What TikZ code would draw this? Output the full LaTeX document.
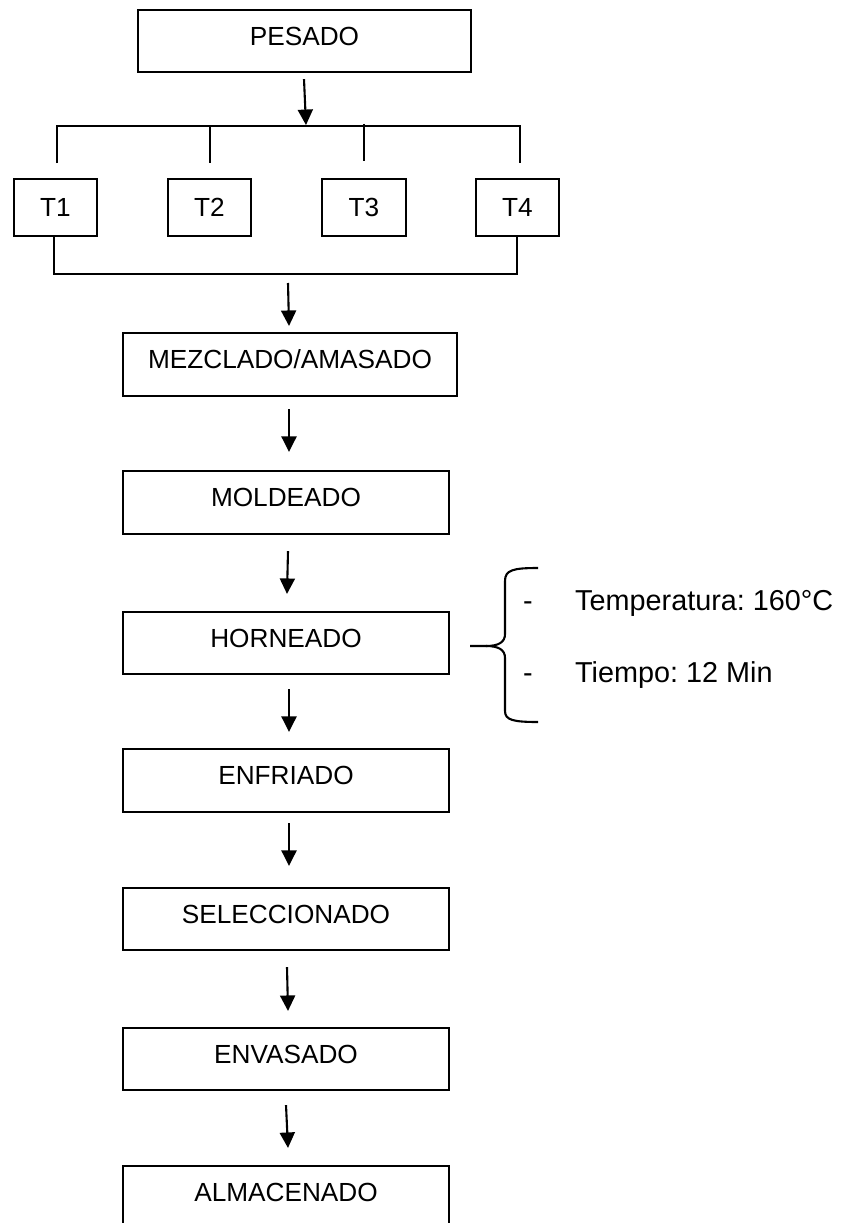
\documentclass[tikz,border=0pt]{standalone}
\usepackage{fontspec}
\setmainfont{Liberation Sans}
\usetikzlibrary{arrows.meta,calc}
\begin{document}
\frenchspacing
\begin{tikzpicture}[x=1pt,y=-1pt,
  box/.style={draw, line width=2.1pt, minimum width=326pt, minimum height=63pt, inner sep=0pt,
    text height=18.8pt, text depth=10pt, font=\fontsize{26.2}{30}\selectfont},
  tbox/.style={box, minimum width=83pt, minimum height=57pt, text depth=0pt},
  arr/.style={line width=2.1pt, -{Triangle[length=15.5pt,width=15pt]}},
  ln/.style={line width=2.1pt},
  side/.style={font=\fontsize{28.8}{32}\selectfont, inner sep=0pt, anchor=base west},
  dashmark/.style={font=\fontsize{28.8}{32}\selectfont, inner sep=0pt, anchor=base}]
\useasboundingbox (0,0) rectangle (842,1223);
\clip (0,0) rectangle (842,1223);
\fill[white] (0,0) rectangle (842,1223);

% boxes
\node[box, minimum width=333pt, minimum height=62pt] (pes) at (304.5,41) {PESADO};
\node[tbox] (t1) at (55.5,207.5) {T1};
\node[tbox] (t2) at (209.5,207.5) {T2};
\node[tbox, minimum width=84pt] (t3) at (364,207.5) {T3};
\node[tbox] (t4) at (517.5,207.5) {T4};
\node[box, minimum width=334pt] (mez) at (290,364.5) {MEZCLADO/AMASADO};
\node[box] (mol) at (286,502.5) {MOLDEADO};
\node[box, minimum height=62pt] (hor) at (286,643) {HORNEADO};
\node[box] (enf) at (286,780.5) {ENFRIADO};
\node[box, minimum height=62pt] (sel) at (286,919) {SELECCIONADO};
\node[box, minimum height=62pt] (env) at (286,1059) {ENVASADO};
\node[box, minimum height=62pt] (alm) at (286,1197) {ALMACENADO};

% distribution bus
\coordinate (busL) at (57,126);
\coordinate (busR) at (520,126);
\draw[arr] ($(pes.south)+(-0.5,6)$) -- ($(pes.south)+(1.5,52)$);
\draw[ln] ($(busL)+(0,37)$) -- (busL) -- (busR) -- ($(busR)+(0,37)$);
\draw[ln] ($(t2.north)+(0.5,-52)$) -- ($(t2.north)+(0.5,-15)$);
\draw[ln] ($(t3.north)+(0,-54)$) -- ($(t3.north)+(0,-17)$);

% collecting bracket
\coordinate (col) at (286,274);
\draw[ln] ($(t1.south)+(-1.5,0)$) |- (col) -| ($(t4.south)+(-0.5,0)$);
\draw[arr] ($(col)+(2,9)$) -- ($(mez.north)+(-1,-6)$);

% main chain
\draw[arr] ($(mez.south)+(-1,12)$) -- ($(mol.north)+(3,-18)$);
\draw[arr] ($(mol.south)+(2,16)$) -- ($(hor.north)+(1,-17)$);
\draw[arr] ($(hor.south)+(3,14)$) -- ($(enf.north)+(3,-16)$);
\draw[arr] ($(enf.south)+(3,10)$) -- ($(sel.north)+(3,-21)$);
\draw[arr] ($(sel.south)+(1,16)$) -- ($(env.north)+(2,-16)$);
\draw[arr] ($(env.south)+(0,14)$) -- ($(alm.north)+(2,-17)$);

% brace with baking conditions
\coordinate (tip) at (470,646);
\draw[ln] (538,568) .. controls (513,568) and (505,570) .. (505,581) -- (505,634)
  .. controls (505,642) and (499,646) .. (486,646) -- (tip);
\draw[ln] (486,646) .. controls (499,646) and (505,650) .. (505,658) -- (505,711)
  .. controls (505,720) and (513,722) .. (538,722);
\node[dashmark] (d1) at (528,610) {-};
\node[side] (temp) at (575,610) {Temperatura: 160°C};
\node[dashmark] (d2) at (528,682) {-};
\node[side] (tiem) at (575,682) {Tiempo: 12 Min};
\end{tikzpicture}
\end{document}
